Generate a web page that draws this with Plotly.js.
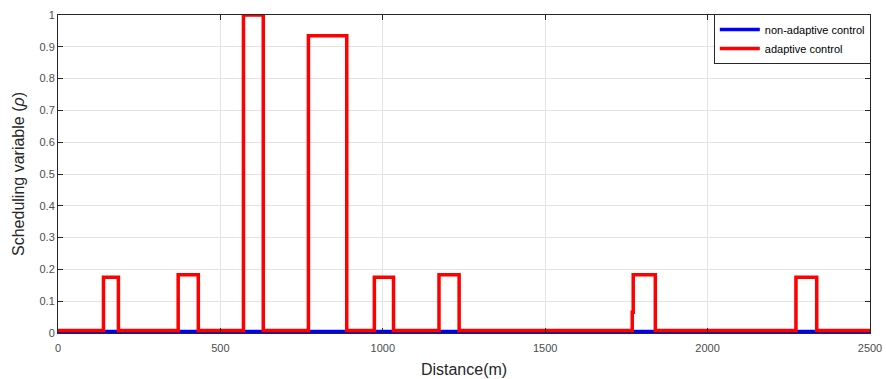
<!DOCTYPE html>
<html>
<head>
<meta charset="utf-8">
<script src="https://cdn.plot.ly/plotly-3.0.1.min.js"></script>
<style>html,body{margin:0;padding:0;background:#fff;}#chart{width:886px;height:379px;}</style>
</head>
<body>
<div id="chart"></div>
<script>
// Step breakpoints (distance in m) and scheduling variable values
const adaptiveX = [0, 140, 186, 370, 432, 571, 632, 771, 889, 974, 1033, 1173, 1235, 1768, 1771, 1839, 2272, 2336, 2500];
const adaptiveY = [0.008, 0.175, 0.008, 0.183, 0.008, 1.0, 0.008, 0.935, 0.008, 0.175, 0.008, 0.183, 0.008, 0.065, 0.183, 0.008, 0.175, 0.008, 0.008];
const nonAdaptiveX = [0, 2500];
const nonAdaptiveY = [0.005, 0.005];
const xTicks = [0, 500, 1000, 1500, 2000, 2500];
const yTicks = [0, 0.1, 0.2, 0.3, 0.4, 0.5, 0.6, 0.7, 0.8, 0.9, 1];
const yTickLabels = ['0', '0.1', '0.2', '0.3', '0.4', '0.5', '0.6', '0.7', '0.8', '0.9', '1'];

const font = 'Liberation Sans, Arial, Helvetica, sans-serif';
const traces = [
  {x: nonAdaptiveX, y: nonAdaptiveY, type: 'scatter', mode: 'lines', name: 'non-adaptive control',
   line: {color: '#0000ff', width: 3.5, shape: 'hv'}},
  {x: adaptiveX, y: adaptiveY, type: 'scatter', mode: 'lines', name: 'adaptive control',
   line: {color: '#ff0000', width: 3.5, shape: 'hv'}}
];
const axisCommon = {
  showline: true, linecolor: '#262626', linewidth: 1, mirror: 'ticks',
  ticks: 'inside', ticklen: 5, tickcolor: '#262626', tickwidth: 1,
  showgrid: true, gridcolor: '#e3e3e3', gridwidth: 1, zeroline: false,
  tickfont: {family: font, size: 11, color: '#4d4d4d'}
};
const layout = {
  width: 886, height: 379,
  margin: {l: 58, r: 16, t: 15, b: 46},
  paper_bgcolor: '#ffffff', plot_bgcolor: '#ffffff',
  showlegend: true,
  xaxis: Object.assign({}, axisCommon, {
    range: [0, 2500], tickvals: xTicks, ticktext: xTicks.map(String),
    ticklabelstandoff: 5,
    title: {text: 'Distance(m)', font: {family: font, size: 16, color: '#262626'}, standoff: 10}
  }),
  yaxis: Object.assign({}, axisCommon, {
    range: [0, 1], tickvals: yTicks, ticktext: yTickLabels,
    title: {text: 'Scheduling variable (<i>ρ</i>)', font: {family: font, size: 16, color: '#262626'}, standoff: 10}
  }),
  legend: {
    x: 1.001, y: 1.003, xanchor: 'right', yanchor: 'top',
    bgcolor: '#ffffff', bordercolor: '#262626', borderwidth: 1,
    font: {family: font, size: 11, color: '#000000'},
    itemwidth: 40, tracegroupgap: 0
  }
};
Plotly.newPlot('chart', traces, layout, {displayModeBar: false, staticPlot: true});
</script>
</body>
</html>
